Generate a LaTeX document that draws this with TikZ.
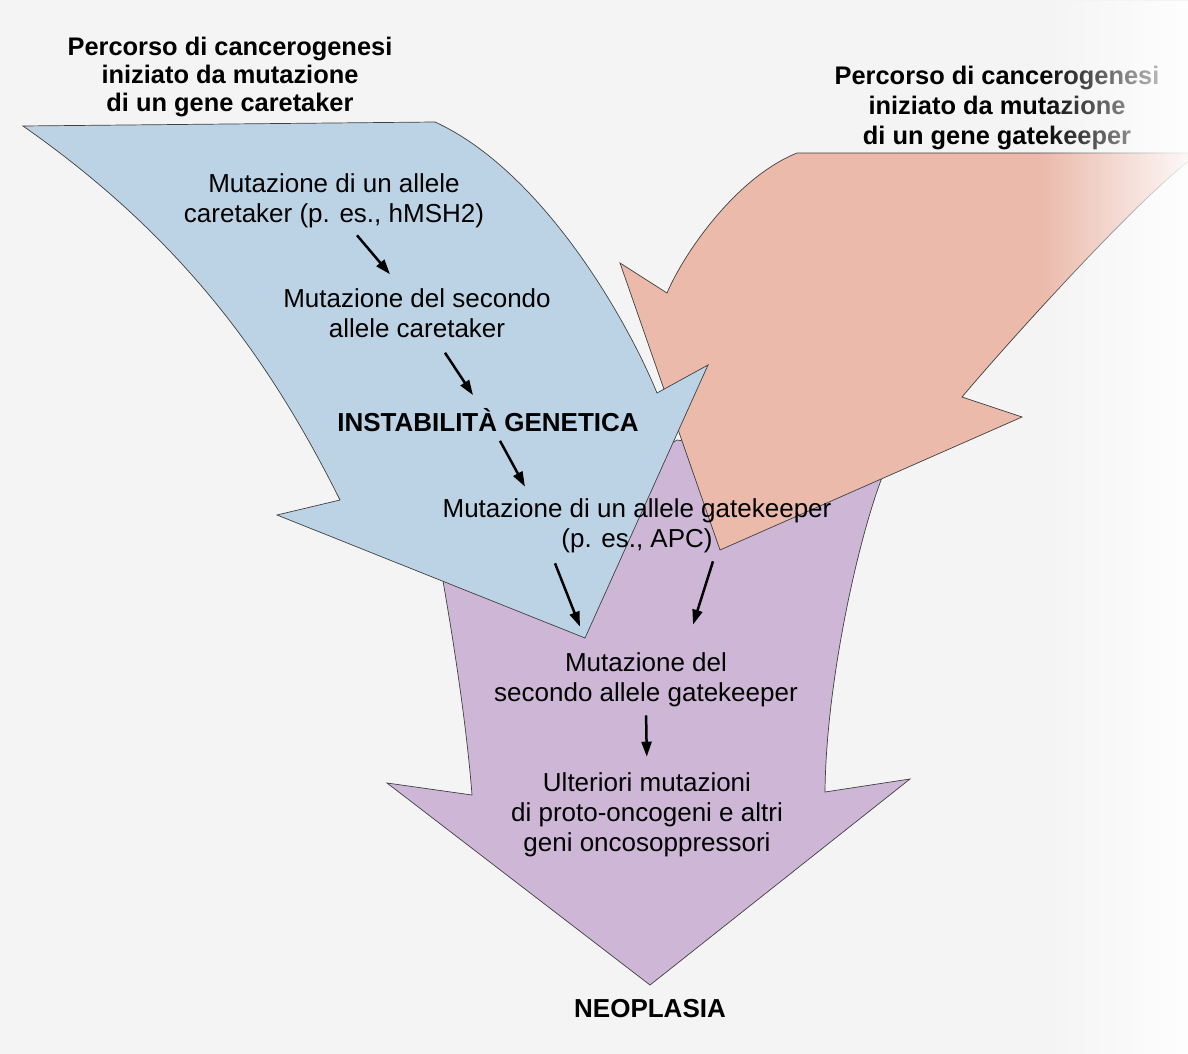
\documentclass[tikz,border=0pt]{standalone}
\usepackage{fontspec}
\setmainfont{Liberation Sans}
\usetikzlibrary{arrows.meta,fadings}
\definecolor{paper}{RGB}{243,244,243}
\definecolor{caretakerblue}{RGB}{188,211,229}
\definecolor{gatekeepersalmon}{RGB}{235,186,170}
\definecolor{neoplasiaviolet}{RGB}{206,182,215}
\tikzstyle{pathtitle} = [font=\bfseries\fontsize{25.4}{28}\selectfont,align=center,inner sep=2pt]
\tikzstyle{stagetext} = [font=\fontsize{26}{30}\selectfont,align=center,inner sep=3pt]
\tikzstyle{bigarrow} = [draw=black!75,line width=0.7pt,line join=miter]
\tikzstyle{flow} = [line width=2.5pt,-{Triangle[length=15pt,width=10pt]}]
\tikzfading[name=glare,left color=transparent!100,right color=transparent!10]

\begin{document}
\begin{tikzpicture}[x=1pt,y=-1pt]
    \useasboundingbox (0,0) rectangle (1188,1054);
    \fill[paper] (0,0) rectangle (1188,1054);

    \begin{scope}
        \clip (0,0) rectangle (1188,1054);
        \filldraw[bigarrow,fill=neoplasiaviolet] (443,581) .. controls (455,650) and (467,730) .. (472,795)
            -- (387,783) -- (650,985) -- (910,779) -- (825,792)
            .. controls (826,680) and (860,530) .. (885,470) -- (677,440) -- cycle;
        \filldraw[bigarrow,fill=gatekeepersalmon] (797,153) -- (1200,153)
            .. controls (1150,185) and (1010,340) .. (962,397)
            -- (1022,417) -- (720,550) -- (620,263) -- (667,293)
            .. controls (683,255) and (735,178) .. (797,153) -- cycle;
        \filldraw[bigarrow,fill=caretakerblue] (23,126) -- (435,122)
            .. controls (540,170) and (625,315) .. (657,393)
            -- (708,365) -- (585,638) -- (277,515) -- (340,500)
            .. controls (270,360) and (183,238) .. (23,126) -- cycle;
    \end{scope}

    \node[pathtitle] (carepath) at (230,77) {Percorso di cancerogenesi\\iniziato da mutazione\\di un gene caretaker};
    \node[pathtitle,font=\bfseries\fontsize{25.4}{30}\selectfont] (gatepath) at (997,108) {Percorso di cancerogenesi\\iniziato da mutazione\\di un gene gatekeeper};

    \node[stagetext] (careone) at (334,201) {Mutazione di un allele\\caretaker (p. es., hMSH2)};
    \node[stagetext] (caretwo) at (417,313) {Mutazione del secondo\\allele caretaker};
    \node[stagetext,font=\bfseries\fontsize{26}{30}\selectfont] (instab) at (488,420) {INSTABILITÀ GENETICA};
    \node[stagetext] (gateone) at (637,526) {Mutazione di un allele gatekeeper\\(p. es., APC)};
    \node[stagetext] (gatetwo) at (646,680) {Mutazione del\\secondo allele gatekeeper};
    \node[stagetext] (further) at (647,815) {Ulteriori mutazioni\\di proto-oncogeni e altri\\geni oncosoppressori};
    \node[stagetext,font=\bfseries\fontsize{26}{30}\selectfont] (neo) at (650,1009) {NEOPLASIA};

    \draw[flow] ([shift={(23,4)}]careone.south) -- ([shift={(-27,-11)}]caretwo.north);
    \draw[flow] ([shift={(28,12)}]caretwo.south) -- ([shift={(-15,-10)}]instab.north);
    \draw[flow] ([shift={(12,6)}]instab.south) -- ([shift={(-112,-9)}]gateone.north);
    \draw[flow] ([shift={(-82,7)}]gateone.south) -- ([shift={(-66,-23)}]gatetwo.north);
    \draw[flow] ([shift={(76,5)}]gateone.south) -- ([shift={(47,-25)}]gatetwo.north);
    \draw[flow,shorten <=5pt,shorten >=13pt] (gatetwo.south) -- (further.north);

    \fill[white,path fading=glare] (1040,0) rectangle (1188,1054);
\end{tikzpicture}
\end{document}
